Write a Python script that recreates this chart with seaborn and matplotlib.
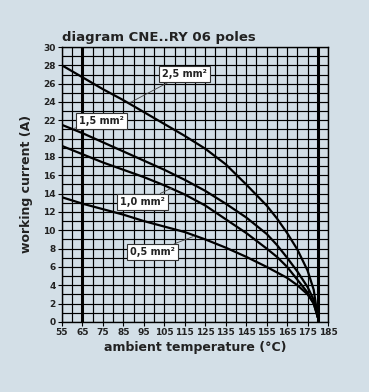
import pandas as pd
import seaborn as sns
import matplotlib.pyplot as plt

# values
temps = [55, 65, 75, 85, 95, 105, 115, 125, 135, 145, 155, 160, 165, 170, 175, 178, 180]
cur_25 = [28.0, 26.7, 25.4, 24.2, 22.9, 21.6, 20.3, 18.9, 17.2, 15.0, 12.7, 11.3, 9.7, 7.9, 5.6, 3.5, 0.5]
cur_15 = [21.5, 20.6, 19.6, 18.6, 17.6, 16.6, 15.5, 14.3, 12.9, 11.4, 9.6, 8.4, 7.0, 5.5, 3.8, 2.4, 0.5]
cur_10 = [19.2, 18.3, 17.4, 16.6, 15.8, 14.9, 13.9, 12.7, 11.2, 9.7, 8.0, 7.1, 6.0, 4.6, 3.2, 2.0, 0.5]
cur_05 = [13.6, 12.9, 12.3, 11.7, 11.0, 10.4, 9.8, 9.0, 8.1, 7.1, 6.0, 5.4, 4.8, 4.0, 3.0, 2.0, 0.5]
sections = ['2,5 mm²', '1,5 mm²', '1,0 mm²', '0,5 mm²']
x_ticks = list(range(55, 186, 10))
y_ticks = list(range(0, 31, 2))

df = pd.DataFrame({
    'temp': temps * 4,
    'current': cur_25 + cur_15 + cur_10 + cur_05,
    'section': [s for s in sections for _ in temps],
})

bg = '#d3dfe7'
sns.set_style('white')
plt.rcParams['font.family'] = ['DejaVu Sans']

fig = plt.figure(figsize=(3.69, 3.92), dpi=100, facecolor=bg)
ax = fig.add_axes([0.168, 0.179, 0.721, 0.701])
ax.set_facecolor(bg)

# grid
for x in range(55, 186, 5):
    lw = 2.2 if x in (65, 180) else 0.85
    ax.axvline(x, color='black', lw=lw, zorder=1)
for y in range(0, 31):
    ax.axhline(y, color='black', lw=0.85, zorder=1)

sns.lineplot(data=df, x='temp', y='current', hue='section',
             palette=['black'] * 4, lw=1.6, legend=False, ax=ax, zorder=3)

ax.set_xlim(55, 185)
ax.set_ylim(0, 30)
ax.set_xticks(x_ticks)
ax.set_yticks(y_ticks)
ax.tick_params(axis='both', labelsize=6.5, length=3, width=0.8, pad=1.5,
               direction='out', bottom=True, left=True, colors='black')
for lab in ax.get_xticklabels() + ax.get_yticklabels():
    lab.set_fontweight('bold')
    lab.set_color('#222222')
for sp in ax.spines.values():
    sp.set_color('black')
    sp.set_linewidth(1.0)

ax.set_xlabel('ambient temperature (°C)', fontsize=9, fontweight='bold', color='#222222', labelpad=3)
ax.set_ylabel('working current (A)', fontsize=9, fontweight='bold', color='#222222', labelpad=7)
ax.set_title('diagram CNE..RY 06 poles', fontsize=9.5, fontweight='bold', color='#222222',
             loc='left', pad=4)

# boxed labels with leader lines: (text pos, arrow target)
label_pos = [(115, 27.1), (74.4, 21.9), (94.3, 13.1), (99.2, 7.6)]
targets = [(88, 23.9), (60.5, 21.1), (108.6, 14.6), (119, 9.3)]
for s, p, t in zip(sections, label_pos, targets):
    ax.annotate(s, xy=t, xytext=p, fontsize=7, fontweight='bold', color='#222222',
                ha='center', va='center', zorder=5,
                bbox=dict(boxstyle='square,pad=0.3', fc='white', ec='#333333', lw=0.8),
                arrowprops=dict(arrowstyle='-', color='#444444', lw=0.6, shrinkA=0, shrinkB=0))

fig.savefig('out.png', dpi=100, facecolor=bg)
